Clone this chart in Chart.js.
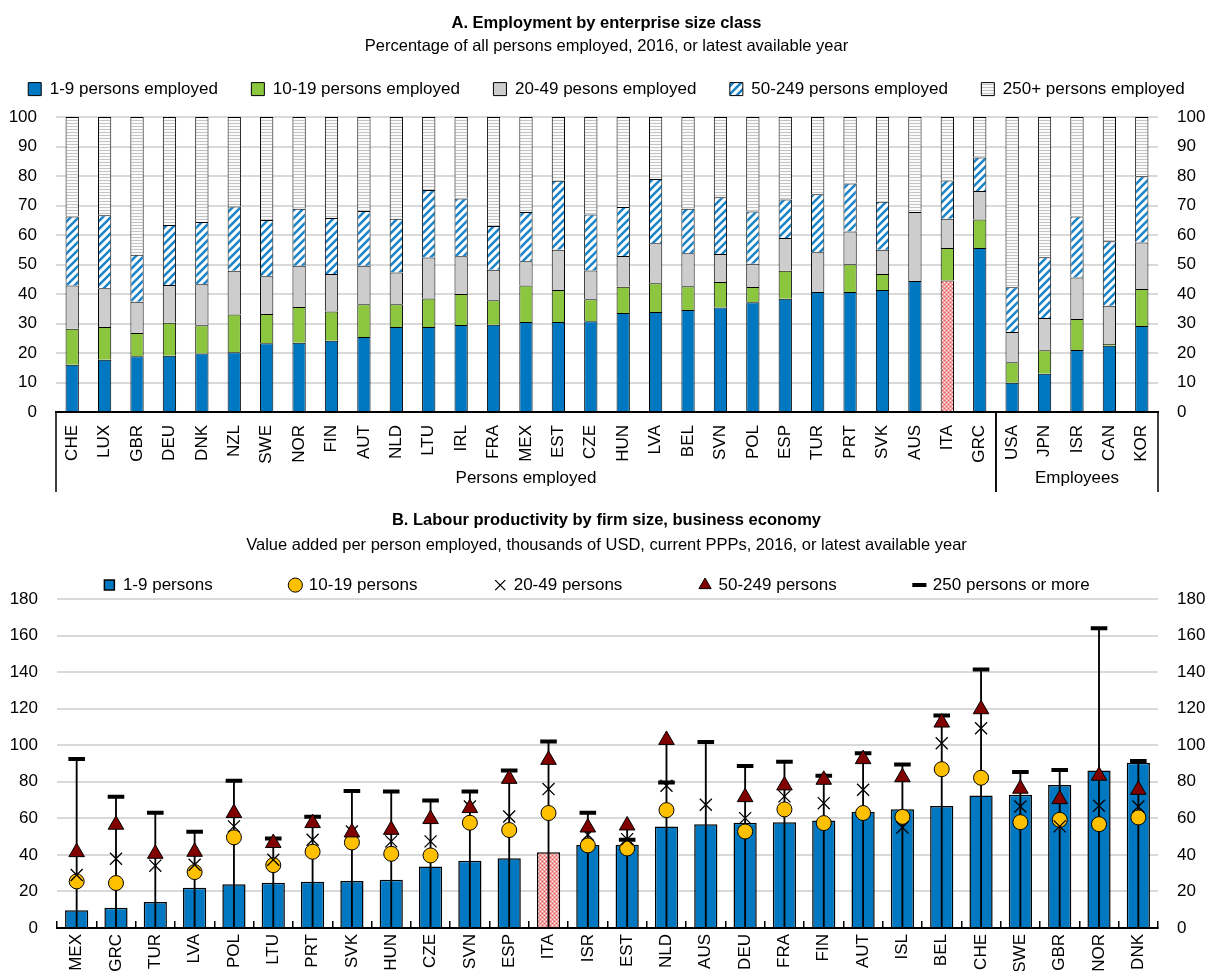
<!DOCTYPE html>
<html>
<head>
<meta charset="utf-8">
<script src="https://cdn.jsdelivr.net/npm/chart.js@4.4.1/dist/chart.umd.min.js"></script>
<style>
  html, body { margin: 0; padding: 0; background: #fff; }
  canvas { display: block; }
</style>
</head>
<body>
<canvas id="chartA" width="1213" height="495"></canvas>
<canvas id="chartB" width="1213" height="476"></canvas>
<script>
// Panel A data (share of persons employed, %)
const countriesA = ["CHE", "LUX", "GBR", "DEU", "DNK", "NZL", "SWE", "NOR", "FIN", "AUT", "NLD", "LTU", "IRL", "FRA", "MEX", "EST", "CZE", "HUN", "LVA", "BEL", "SVN", "POL", "ESP", "TUR", "PRT", "SVK", "AUS", "ITA", "GRC", "USA", "JPN", "ISR", "CAN", "KOR"];
const groupLabelsA = ["Persons employed", "Employees"];
const groupSizesA = [29, 5];
const oneNineA = [16.0, 17.7, 18.9, 19.1, 19.8, 20.3, 23.3, 23.5, 24.2, 25.4, 28.8, 28.8, 29.5, 29.6, 30.5, 30.5, 30.8, 33.6, 33.9, 34.6, 35.4, 37.2, 38.4, 40.7, 40.7, 41.4, 44.4, 44.6, 55.6, 9.9, 13.0, 21.0, 22.5, 29.2];
const tenNineteenA = [12.2, 11.1, 7.9, 11.2, 9.6, 12.8, 9.9, 12.1, 9.9, 11.1, 7.7, 9.7, 10.5, 8.3, 12.4, 10.9, 7.4, 8.9, 9.8, 8.0, 8.7, 5.2, 9.5, null, 9.4, 5.4, null, 11.0, 9.7, 7.0, 7.9, 10.5, 0.6, 12.5];
const twentyFortyNineA = [14.7, 13.2, 10.6, 12.8, 13.9, 14.8, 12.8, 14.0, 12.7, 13.1, 10.8, 13.9, 12.8, 10.3, 8.2, 13.6, 9.8, 10.4, 13.5, 11.2, 9.5, 7.9, 11.1, 13.5, 11.1, 8.2, 23.4, 9.9, 9.6, 10.2, 11.0, 14.1, 12.9, 15.8];
const fiftyTwoFortyNineA = [23.4, 24.7, 15.9, 20.3, 21.1, 21.8, 19.1, 19.3, 19.0, 18.6, 18.2, 22.9, 19.6, 14.9, 16.7, 23.4, 19.0, 16.6, 21.8, 15.1, 19.2, 17.7, 13.1, 19.6, 16.3, 16.3, null, 13.0, 11.4, 15.2, 20.6, 20.7, 21.9, 22.4];
const twoFiftyPlusA = [33.7, 33.3, 46.7, 36.6, 35.6, 30.3, 34.9, 31.1, 34.2, 31.8, 34.5, 24.7, 27.6, 36.9, 32.2, 21.6, 33.0, 30.5, 21.0, 31.1, 27.2, 32.0, 27.9, 26.2, 22.5, 28.7, 32.2, 21.5, 13.7, 57.7, 47.5, 33.7, 42.1, 20.1];

// Panel B data (thousands of USD per person employed)
const countriesB = ["MEX", "GRC", "TUR", "LVA", "POL", "LTU", "PRT", "SVK", "HUN", "CZE", "SVN", "ESP", "ITA", "ISR", "EST", "NLD", "AUS", "DEU", "FRA", "FIN", "AUT", "ISL", "BEL", "CHE", "SWE", "GBR", "NOR", "DNK"];
const oneNineB = [9.7, 11.1, 14.2, 22.0, 23.9, 24.8, 25.3, 25.7, 26.4, 33.7, 36.8, 38.1, 41.5, 45.4, 45.5, 55.6, 56.8, 57.6, 57.8, 58.8, 63.6, 65.0, 66.7, 72.5, 72.9, 78.3, 86.2, 90.4];
const tenNineteenB = [25.5, 24.6, null, 30.6, 49.6, 34.4, 41.7, 46.8, 40.6, 39.7, 57.6, 53.6, 62.9, 45.2, 43.5, 64.5, null, 52.8, 64.9, 57.4, 62.9, 60.8, 86.9, 82.2, 57.9, 59.2, 56.8, 60.5];
const twentyFortyNineB = [29.0, 37.9, 34.1, 34.6, 55.6, 37.3, 48.3, 52.8, 47.4, 47.4, 66.5, 61.0, 76.0, 51.0, 48.6, 77.8, 67.4, 60.1, 72.0, 68.3, 75.6, 55.0, 101.1, 109.3, 66.5, 55.6, 66.9, 66.5];
const fiftyTwoFortyNineB = [41.5, 56.5, 40.6, 41.7, 62.9, 46.5, 57.4, 52.3, 53.7, 59.6, 65.6, 81.6, 92.0, 55.0, 56.1, 102.9, null, 71.6, 78.0, 81.1, 92.4, 82.5, 112.4, 119.7, 76.2, 70.5, 83.3, 75.6];
const twoFiftyB = [92.4, 71.8, 63.0, 52.7, 80.5, 49.0, 60.8, 74.9, 74.7, 69.8, 74.7, 86.2, 102.0, 63.0, 48.3, 79.6, 101.8, 88.7, 90.9, 83.3, 95.6, 89.5, 116.2, 141.4, 85.3, 86.5, 164.0, 91.3];

const FONT = "'Liberation Sans', Arial, sans-serif";
Chart.defaults.font.family = FONT;
Chart.defaults.font.size = 17;
Chart.defaults.color = "#000";

const BLUE = "#0078c1";
const GREEN = "#8cc63f";
const GREY = "#cdcdcd";
const GOLD = "#ffc000";
const DARKRED = "#800000";
const GRID = "#d9d9d9";

function makePattern(w, h, draw) {
  const c = document.createElement("canvas");
  c.width = w;
  c.height = h;
  const g = c.getContext("2d");
  draw(g, w, h);
  return g.createPattern(c, "repeat");
}

const hatchBlue = makePattern(8, 8, (g) => {
  g.fillStyle = "#fff";
  g.fillRect(0, 0, 8, 8);
  g.strokeStyle = "#1c85c8";
  g.lineWidth = 2.6;
  g.beginPath();
  g.moveTo(-2, 10); g.lineTo(10, -2);
  g.moveTo(-2, 2); g.lineTo(2, -2);
  g.moveTo(6, 10); g.lineTo(10, 6);
  g.stroke();
});
const stripeGrey = makePattern(4, 3, (g) => {
  g.fillStyle = "#fafafa";
  g.fillRect(0, 0, 4, 3);
  g.fillStyle = "#c4c4c4";
  g.fillRect(0, 0, 4, 1);
});
const checkPink = makePattern(4, 4, (g) => {
  g.fillStyle = "#f3a0a0";
  g.fillRect(0, 0, 4, 4);
  g.fillStyle = "#e55a5a";
  g.fillRect(0, 0, 1, 1);
  g.fillRect(2, 2, 1, 1);
  g.fillStyle = "#fff";
  g.fillRect(2, 0, 1, 1);
  g.fillRect(0, 2, 1, 1);
});

// legend items in dataset order, with extra trailing space so they spread like the original
function spacedLabels(extra, lastExtra, skip) {
  return (chart) => {
    const items = Chart.defaults.plugins.legend.labels.generateLabels(chart)
      .filter((it) => !skip.includes(it.datasetIndex))
      .sort((a, b) => a.datasetIndex - b.datasetIndex);
    items.forEach((it, i) => {
      it.text += " ".repeat(i < items.length - 1 ? extra : lastExtra);
    });
    return items;
  };
}

// extra room under the legend, before the plot area
function legendGap(extra) {
  return {
    id: "legendGap",
    afterInit(chart) {
      const legend = chart.legend;
      const fit = legend.fit;
      legend.fit = function () {
        fit.call(this);
        this.height += extra;
      };
    },
  };
}

function fixedWidth(w) {
  return (scale) => { scale.width = w; };
}
function fixedHeight(h) {
  return (scale) => { scale.height = h; };
}

// ---------- Panel A ----------
const itaA = countriesA.indexOf("ITA");
const seriesA = [
  { label: "1-9 persons employed", data: oneNineA, fill: (ctx) => (ctx.dataIndex === itaA ? checkPink : BLUE) },
  { label: "10-19 persons employed", data: tenNineteenA, fill: GREEN },
  { label: "20-49 pesons employed", data: twentyFortyNineA, fill: GREY },
  { label: "50-249 persons employed", data: fiftyTwoFortyNineA, fill: hatchBlue },
  { label: "250+ persons employed", data: twoFiftyPlusA, fill: stripeGrey },
];

const groupPlugin = {
  id: "groups",
  afterDraw(chart) {
    const x = chart.scales.x;
    const area = chart.chartArea;
    const ctx = chart.ctx;
    const half = (x.getPixelForValue(1) - x.getPixelForValue(0)) / 2;
    ctx.save();
    ctx.strokeStyle = "#000";
    ctx.lineWidth = 1.5;
    ctx.fillStyle = "#000";
    ctx.font = "17px " + FONT;
    ctx.textAlign = "center";
    ctx.textBaseline = "middle";
    let start = 0;
    groupSizesA.forEach((n, g) => {
      const left = x.getPixelForValue(start) - half;
      const right = x.getPixelForValue(start + n - 1) + half;
      ctx.beginPath();
      ctx.moveTo(left, area.bottom);
      ctx.lineTo(left, area.bottom + 80);
      ctx.moveTo(right, area.bottom);
      ctx.lineTo(right, area.bottom + 80);
      ctx.stroke();
      ctx.fillText(groupLabelsA[g], (left + right) / 2, area.bottom + 66);
      start += n;
    });
    ctx.restore();
  },
};

new Chart(document.getElementById("chartA"), {
  type: "bar",
  data: {
    labels: countriesA,
    datasets: seriesA.map((s) => ({
      label: s.label,
      data: s.data,
      backgroundColor: s.fill,
      borderColor: "#000",
      borderWidth: 1,
      barPercentage: 0.41,
      categoryPercentage: 1,
    })),
  },
  options: {
    responsive: false,
    animation: false,
    events: [],
    layout: { padding: 0 },
    scales: {
      x: {
        stacked: true,
        afterFit: fixedHeight(83),
        grid: { display: false },
        border: { display: true, color: "#000", width: 2 },
        ticks: { autoSkip: false, minRotation: 90, maxRotation: 90, padding: 5 },
      },
      y: {
        stacked: true,
        min: 0,
        max: 100,
        afterFit: fixedWidth(56),
        grid: { color: GRID, lineWidth: 2, drawTicks: false },
        border: { display: false },
        ticks: { stepSize: 10, padding: 19 },
      },
      yRight: {
        position: "right",
        min: 0,
        max: 100,
        afterFit: fixedWidth(55),
        grid: { display: false, drawTicks: false },
        border: { display: false },
        ticks: { stepSize: 10, padding: 19 },
      },
    },
    plugins: {
      title: {
        display: true,
        text: "A. Employment by enterprise size class",
        font: { size: 16.5, weight: "bold" },
        padding: { top: 14, bottom: 0 },
      },
      subtitle: {
        display: true,
        text: "Percentage of all persons employed, 2016, or latest available year",
        font: { size: 16.5 },
        padding: { top: 3, bottom: 0 },
      },
      legend: {
        labels: {
          boxWidth: 13,
          boxHeight: 13,
          padding: 24,
          generateLabels: spacedLabels(2, 0, []),
        },
      },
      tooltip: { enabled: false },
    },
  },
  plugins: [groupPlugin, legendGap(9.5)],
});

// ---------- Panel B ----------
const itaB = countriesB.indexOf("ITA");
const rangeB = countriesB.map((c, i) => [
  0,
  Math.max(oneNineB[i], tenNineteenB[i] || 0, twentyFortyNineB[i] || 0, fiftyTwoFortyNineB[i] || 0, twoFiftyB[i] || 0),
]);

function markerSet(label, data, style, radius, bg, bw, order) {
  return {
    type: "line",
    label: label,
    data: data,
    showLine: false,
    pointStyle: style,
    pointRadius: radius,
    pointBackgroundColor: bg,
    pointBorderColor: "#000",
    pointBorderWidth: bw,
    backgroundColor: bg,
    borderColor: "#000",
    order: order,
  };
}

new Chart(document.getElementById("chartB"), {
  type: "bar",
  data: {
    labels: countriesB,
    datasets: [
      {
        label: "1-9 persons",
        data: oneNineB,
        backgroundColor: (ctx) => (ctx.dataIndex === itaB ? checkPink : BLUE),
        borderColor: "#000",
        borderWidth: 1.5,
        pointStyle: "rect",
        barPercentage: 0.59,
        categoryPercentage: 1,
        grouped: false,
        order: 5,
      },
      markerSet("10-19 persons", tenNineteenB, "circle", 7.5, GOLD, 1, 2),
      markerSet("20-49 persons", twentyFortyNineB, "crossRot", 8.5, "#000", 1.3, 1),
      markerSet("50-249 persons", fiftyTwoFortyNineB, "triangle", 9, DARKRED, 1, 0),
      markerSet("250 persons or more", twoFiftyB, "line", 8.3, "#000", 4, 3),
      {
        label: "range",
        data: rangeB,
        backgroundColor: "#000",
        borderWidth: 0,
        barThickness: 1.2,
        grouped: false,
        order: 4,
      },
    ],
  },
  options: {
    responsive: false,
    animation: false,
    events: [],
    layout: { padding: 0 },
    scales: {
      x: {
        afterFit: fixedHeight(43),
        offset: true,
        grid: { display: true, offset: true, drawOnChartArea: false, drawTicks: true, tickLength: -7, color: "#000", lineWidth: 1.5 },
        border: { display: true, color: "#000", width: 2 },
        ticks: { autoSkip: false, minRotation: 90, maxRotation: 90, padding: 13 },
      },
      y: {
        min: 0,
        max: 180,
        afterFit: fixedWidth(57),
        grid: { color: GRID, lineWidth: 2, drawTicks: false },
        border: { display: false },
        ticks: { stepSize: 20, padding: 19 },
      },
      yRight: {
        position: "right",
        min: 0,
        max: 180,
        afterFit: fixedWidth(55),
        grid: { display: false, drawTicks: false },
        border: { display: false },
        ticks: { stepSize: 20, padding: 19 },
      },
    },
    plugins: {
      title: {
        display: true,
        text: "B. Labour productivity by firm size, business economy",
        font: { size: 16.5, weight: "bold" },
        padding: { top: 16, bottom: 0 },
      },
      subtitle: {
        display: true,
        text: "Value added per person employed, thousands of USD, current PPPs, 2016, or latest available year",
        font: { size: 16.5 },
        padding: { top: 5, bottom: 0 },
      },
      legend: {
        maxHeight: 43.4,
        labels: {
          usePointStyle: true,
          boxWidth: 10,
          boxHeight: 10,
          padding: 21,
          generateLabels: spacedLabels(12, 4, [5]),
        },
      },
      tooltip: { enabled: false },
    },
  },
});
</script>
</body>
</html>
